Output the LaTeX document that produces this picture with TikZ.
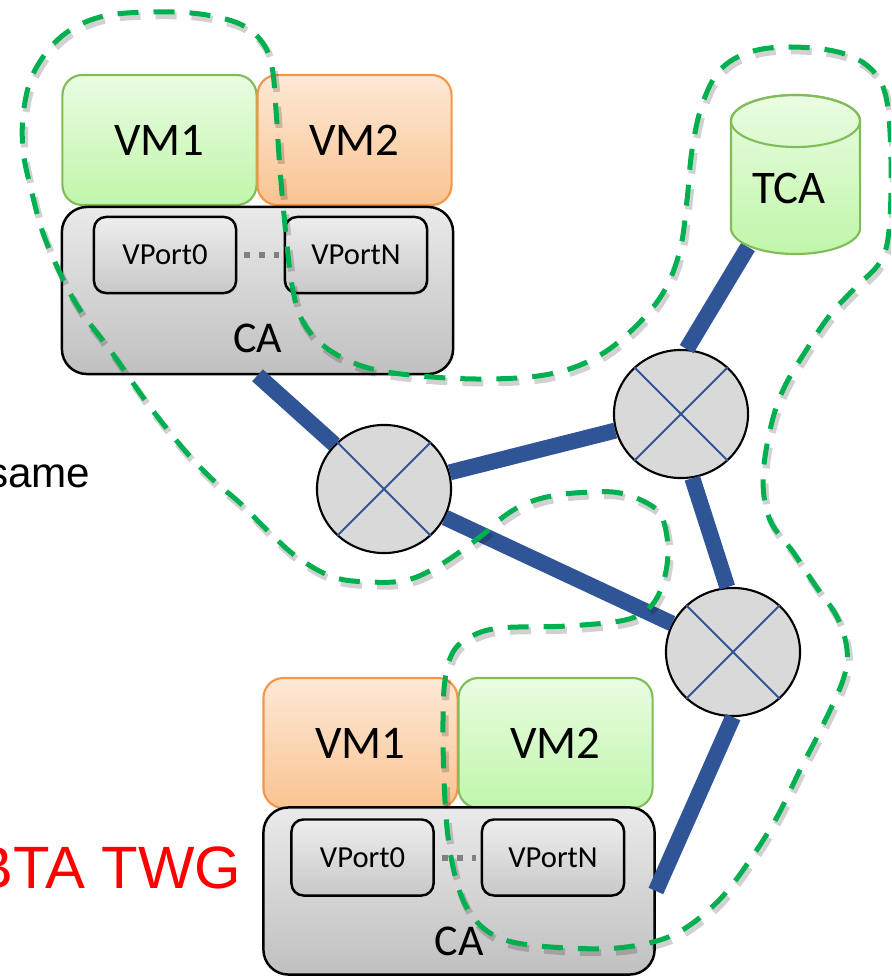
\documentclass[tikz,border=0pt]{standalone}
\usepackage{fontspec}
\setmainfont{Carlito}
\newfontfamily\slidefont{Liberation Sans}
\usetikzlibrary{shapes.geometric}

\definecolor{vmgreentop}{RGB}{234,252,226}
\definecolor{vmgreenbot}{RGB}{192,246,170}
\definecolor{vmgreenline}{RGB}{128,188,88}
\definecolor{vmorangetop}{RGB}{253,233,215}
\definecolor{vmorangebot}{RGB}{250,195,145}
\definecolor{vmorangeline}{RGB}{244,150,72}
\definecolor{catop}{RGB}{234,234,234}
\definecolor{cabot}{RGB}{192,192,192}
\definecolor{porttop}{RGB}{238,238,238}
\definecolor{portbot}{RGB}{200,200,200}
\definecolor{switchgray}{RGB}{217,217,217}
\definecolor{trunkblue}{RGB}{47,85,151}
\definecolor{dotgray}{RGB}{128,128,128}
\definecolor{trustgreen}{RGB}{0,176,80}

\begin{document}
\begin{tikzpicture}[x=0.01cm, y=-0.01cm,
    vmbox/.style={rounded corners=0.2cm, minimum width=1.94cm, minimum height=1.3cm,
        line width=0.6pt, inner sep=0pt, font=\fontsize{13.3}{16}\selectfont},
    vmgreen/.style={vmbox, draw=vmgreenline, top color=vmgreentop, bottom color=vmgreenbot},
    vmorange/.style={vmbox, draw=vmorangeline, top color=vmorangetop, bottom color=vmorangebot},
    cabox/.style={rounded corners=0.25cm, minimum width=3.91cm, minimum height=1.67cm,
        draw=black, line width=0.7pt, top color=catop, bottom color=cabot},
    calabel/.style={anchor=base, inner sep=0pt, font=\fontsize{12.5}{15}\selectfont},
    portbox/.style={rounded corners=0.12cm, minimum width=1.42cm, minimum height=0.76cm,
        draw=black, line width=0.7pt, inner sep=0pt, top color=porttop, bottom color=portbot,
        font=\fontsize{8.7}{10}\selectfont},
    portdots/.style={draw=dotgray, line width=0.06cm, dash pattern=on 0.06cm off 0.09cm,
        shorten <=0.07cm, shorten >=0.05cm},
    switch/.style={ellipse, draw=black, line width=0.6pt, fill=switchgray,
        minimum width=1.34cm, minimum height=1.28cm, inner sep=0pt},
    crossline/.style={draw=trunkblue, line width=0.55pt},
    trunk/.style={draw=trunkblue, line width=0.16cm},
    slidetext/.style={inner sep=0pt, font=\slidefont\fontsize{12}{14}\selectfont},
    trust/.style={draw=trustgreen, line width=0.05cm, dash pattern=on 0.21cm off 0.15cm}
]

    % --- 1. Page frame ---
    \useasboundingbox (0,0) rectangle (891,976);
    \clip (0,0) rectangle (891,976);

    % --- 2. Upper host: two VMs over a CA with its virtual ports ---
    \node[vmgreen]  (vmA1) at (159.5,140) {VM1};
    \node[vmorange] (vmA2) at (354.5,140) {VM2};
    \node[cabox]    (caA)  at (257.5,290.5) {};
    \node[portbox]  (vpA0) at (165,255) {VPort0};
    \node[portbox]  (vpAN) at (356,255) {VPortN};
    \draw[portdots] (vpA0) -- (vpAN);
    \node[calabel]  (caAlabel) at (258,352) {CA};

    % --- 3. Lower host (colours of the VMs swapped) ---
    \node[vmorange] (vmB1) at (360.5,743) {VM1};
    \node[vmgreen]  (vmB2) at (555.5,743) {VM2};
    \node[cabox]    (caB)  at (459,891) {};
    \node[portbox]  (vpB0) at (362.5,857.5) {VPort0};
    \node[portbox]  (vpBN) at (553,857.5) {VPortN};
    \draw[portdots] (vpB0) -- (vpBN);
    \node[calabel]  (caBlabel) at (459,955) {CA};

    % --- 4. Switches ---
    \node[switch] (s1) at (384,489) {};
    \node[switch] (s2) at (681,414) {};
    \node[switch] (s3) at (733,652) {};
    \foreach \s in {s1,s2,s3} {
        \draw[crossline] (\s.135) -- (\s.-45);
        \draw[crossline] (\s.45) -- (\s.-135);
    }

    % --- 5. Fabric links ---
    \coordinate (tcafoot) at (748,247);
    \draw[trunk] (caA.south) -- (s1);
    \draw[trunk] (s1) -- (s2);
    \draw[trunk] (s1) -- (s3);
    \draw[trunk] (s2.-80) -- (s3.95);
    \draw[trunk] (s2.85) -- (tcafoot);
    \draw[trunk] (s3.south) -- (caB.east);

    % --- 6. TCA store (cylinder drawn by hand) ---
    \path[draw=vmgreenline, line width=0.6pt, top color=vmgreentop, bottom color=vmgreenbot]
        (731,121) -- (731,228)
        arc[start angle=180, end angle=360, x radius=0.645cm, y radius=0.26cm]
        -- (860,121)
        arc[start angle=0, end angle=180, x radius=0.645cm, y radius=0.26cm] -- cycle;
    \draw[vmgreenline, line width=0.6pt] (795.5,121) ellipse [x radius=0.645cm, y radius=0.26cm];
    \node[inner sep=0pt, font=\fontsize{13.3}{16}\selectfont] (tca) at (789,188) {TCA};

    % --- 7. Slide text cut by the frame ---
    \node[slidetext, anchor=base east] (sametxt) at (91,487) {same};
    \node[slidetext, anchor=base east, text=red, font=\slidefont\fontsize{17}{20}\selectfont]
        (twgtxt) at (242,888) {BTA TWG};

    % --- 8. Trust boundary (with a soft shadow under the dashes) ---
    \draw[trust, preaction={draw=black, opacity=0.18, line width=0.07cm,
            dash pattern=on 0.21cm off 0.15cm,
            transform canvas={shift={(0.6pt,-1.1pt)}}}]
        plot[smooth cycle, tension=0.6] coordinates {
        (23,150) (24,108) (35,70) (62,36) (100,17) (150,12) (200,14) (240,24)
        (262,42) (272,67) (276,110) (280,170) (286,235) (292,285) (302,320)
        (325,347) (365,367) (420,376) (490,379) (550,374) (595,358) (632,330)
        (663,293) (680,250) (687,200) (692,150) (702,105) (720,70) (750,52)
        (790,47) (838,52) (870,68) (886,97) (891,160) (889,230) (880,262)
        (855,288) (830,315) (805,352) (783,390) (770,430) (763,480) (770,520)
        (793,552) (815,585) (837,617) (847,650) (843,680) (822,727) (800,770)
        (777,817) (750,860) (722,897) (690,925) (660,940) (617,948) (567,948)
        (517,943) (490,933) (470,913) (457,883) (448,837) (444,780) (443,720)
        (445,680) (453,652) (470,637) (500,628) (567,626) (625,620) (650,607)
        (663,583) (668,550) (662,517) (647,503) (620,493) (593,492) (557,495)
        (527,503) (503,517) (480,537) (440,565) (407,580) (370,582) (333,577)
        (297,557) (267,530) (240,503) (213,480) (187,453) (160,420) (140,393)
        (110,350) (80,310) (60,273) (43,233) (32,193)};

\end{tikzpicture}
\end{document}
